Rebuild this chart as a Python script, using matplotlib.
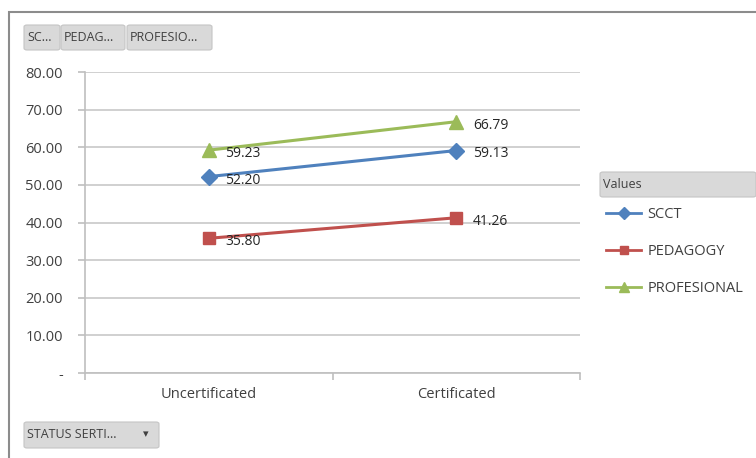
import matplotlib
matplotlib.use("Agg")
import matplotlib.pyplot as plt
from matplotlib.patches import FancyBboxPatch, Rectangle
from matplotlib.lines import Line2D

categories = ["Uncertificated", "Certificated"]
series_names = ["SCCT", "PEDAGOGY", "PROFESIONAL"]
scct = [52.20, 59.13]
pedagogy = [35.80, 41.26]
profesional = [59.23, 66.79]
y_ticks = [0, 10, 20, 30, 40, 50, 60, 70, 80]
y_tick_labels = ["-", "10.00", "20.00", "30.00", "40.00", "50.00", "60.00", "70.00", "80.00"]

colors = ["#4F81BD", "#C0504D", "#9BBB59"]
markers = ["D", "s", "^"]
msizes = [8, 8.5, 9.5]
values = [scct, pedagogy, profesional]

FONT = "Open Sans"
plt.rcParams["font.family"] = [FONT, "DejaVu Sans"]
W, H = 756, 458
fig = plt.figure(figsize=(W / 100, H / 100), dpi=100)

def fx(px):
    return px / W

def fy(py):
    return 1 - py / H

# outer frame
fig.patches.append(Rectangle((fx(9), fy(470)), fx(800), fy(12) - fy(470),
                             transform=fig.transFigure, fill=False,
                             edgecolor="#8C8C8C", linewidth=1.5))

ax = fig.add_axes([fx(85), fy(373), fx(580) - fx(85), fy(72) - fy(373)])
x = [0.5, 1.5]
for vals, name, c, m, ms in zip(values, series_names, colors, markers, msizes):
    ax.plot(x, vals, color=c, marker=m, markersize=ms, linewidth=2.2, label=name)
    for xi, v in zip(x, vals):
        ax.annotate(f"{v:.2f}", (xi, v), xytext=(12, -2.5), textcoords="offset points",
                    ha="left", va="center", fontsize=10, color="#262626")

ax.set_xlim(0, 2)
ax.set_ylim(0, 80)
ax.set_yticks(y_ticks)
ax.set_yticklabels(y_tick_labels)
ax.yaxis.grid(True, color="#C8C8C8", linewidth=1.2)
ax.set_axisbelow(True)
ax.set_xticks([0, 1, 2])
ax.set_xticklabels([])
ax.set_xticks(x, minor=True)
ax.set_xticklabels(categories, minor=True)
ax.tick_params(axis="x", which="minor", length=0, pad=10, labelsize=10.5, labelcolor="#404040")
ax.tick_params(axis="x", which="major", length=5, color="#BFBFBF", width=1.2)
ax.tick_params(axis="y", length=5, color="#BFBFBF", width=1.2, labelsize=10.5,
               labelcolor="#404040", pad=11)
for s in ["top", "right"]:
    ax.spines[s].set_visible(False)
for s in ["left", "bottom"]:
    ax.spines[s].set_color("#BFBFBF")
    ax.spines[s].set_linewidth(1.2)

# legend
handles = [Line2D([0], [0], color=c, marker=m, markersize=ms * 0.75, linewidth=2)
           for c, m, ms in zip(colors, markers, msizes)]
leg = fig.legend(handles, series_names, loc="upper left",
                 bbox_to_anchor=(fx(606), fy(207)), frameon=False, fontsize=10.5,
                 handlelength=2.4, handletextpad=0.45, labelspacing=1.5,
                 borderaxespad=0, borderpad=0)
for t in leg.get_texts():
    t.set_color("#404040")

def button(x0, y0, x1, y1, text, arrow=False, fs=9):
    p = FancyBboxPatch((fx(x0), fy(y1)), fx(x1) - fx(x0), fy(y0) - fy(y1),
                       boxstyle="round,pad=0,rounding_size=0.004",
                       transform=fig.transFigure, facecolor="#D9D9D9",
                       edgecolor="#C4C4C4", linewidth=0.8)
    fig.patches.append(p)
    fig.text(fx(x0 + 3), fy((y0 + y1) / 2), text, ha="left", va="center",
             fontsize=fs, color="#404040")
    if arrow:
        fig.text(fx(x1 - 13), fy((y0 + y1) / 2), "\u25BE", ha="center", va="center",
                 fontsize=8, color="#404040")

button(24, 25, 60, 50, "SC...")
button(61, 25, 125, 50, "PEDAG...")
button(127, 25, 212, 50, "PROFESIO...")
button(24, 422, 159, 448, "STATUS SERTI...", arrow=True)

# legend title box
p = FancyBboxPatch((fx(600), fy(197)), fx(756) - fx(600), fy(172) - fy(197),
                   boxstyle="round,pad=0,rounding_size=0.004",
                   transform=fig.transFigure, facecolor="#D9D9D9",
                   edgecolor="#C4C4C4", linewidth=0.8)
fig.patches.append(p)
fig.text(fx(603), fy(185), "Values", ha="left", va="center", fontsize=9, color="#404040")

fig.savefig("out.png", dpi=100, facecolor="white")
